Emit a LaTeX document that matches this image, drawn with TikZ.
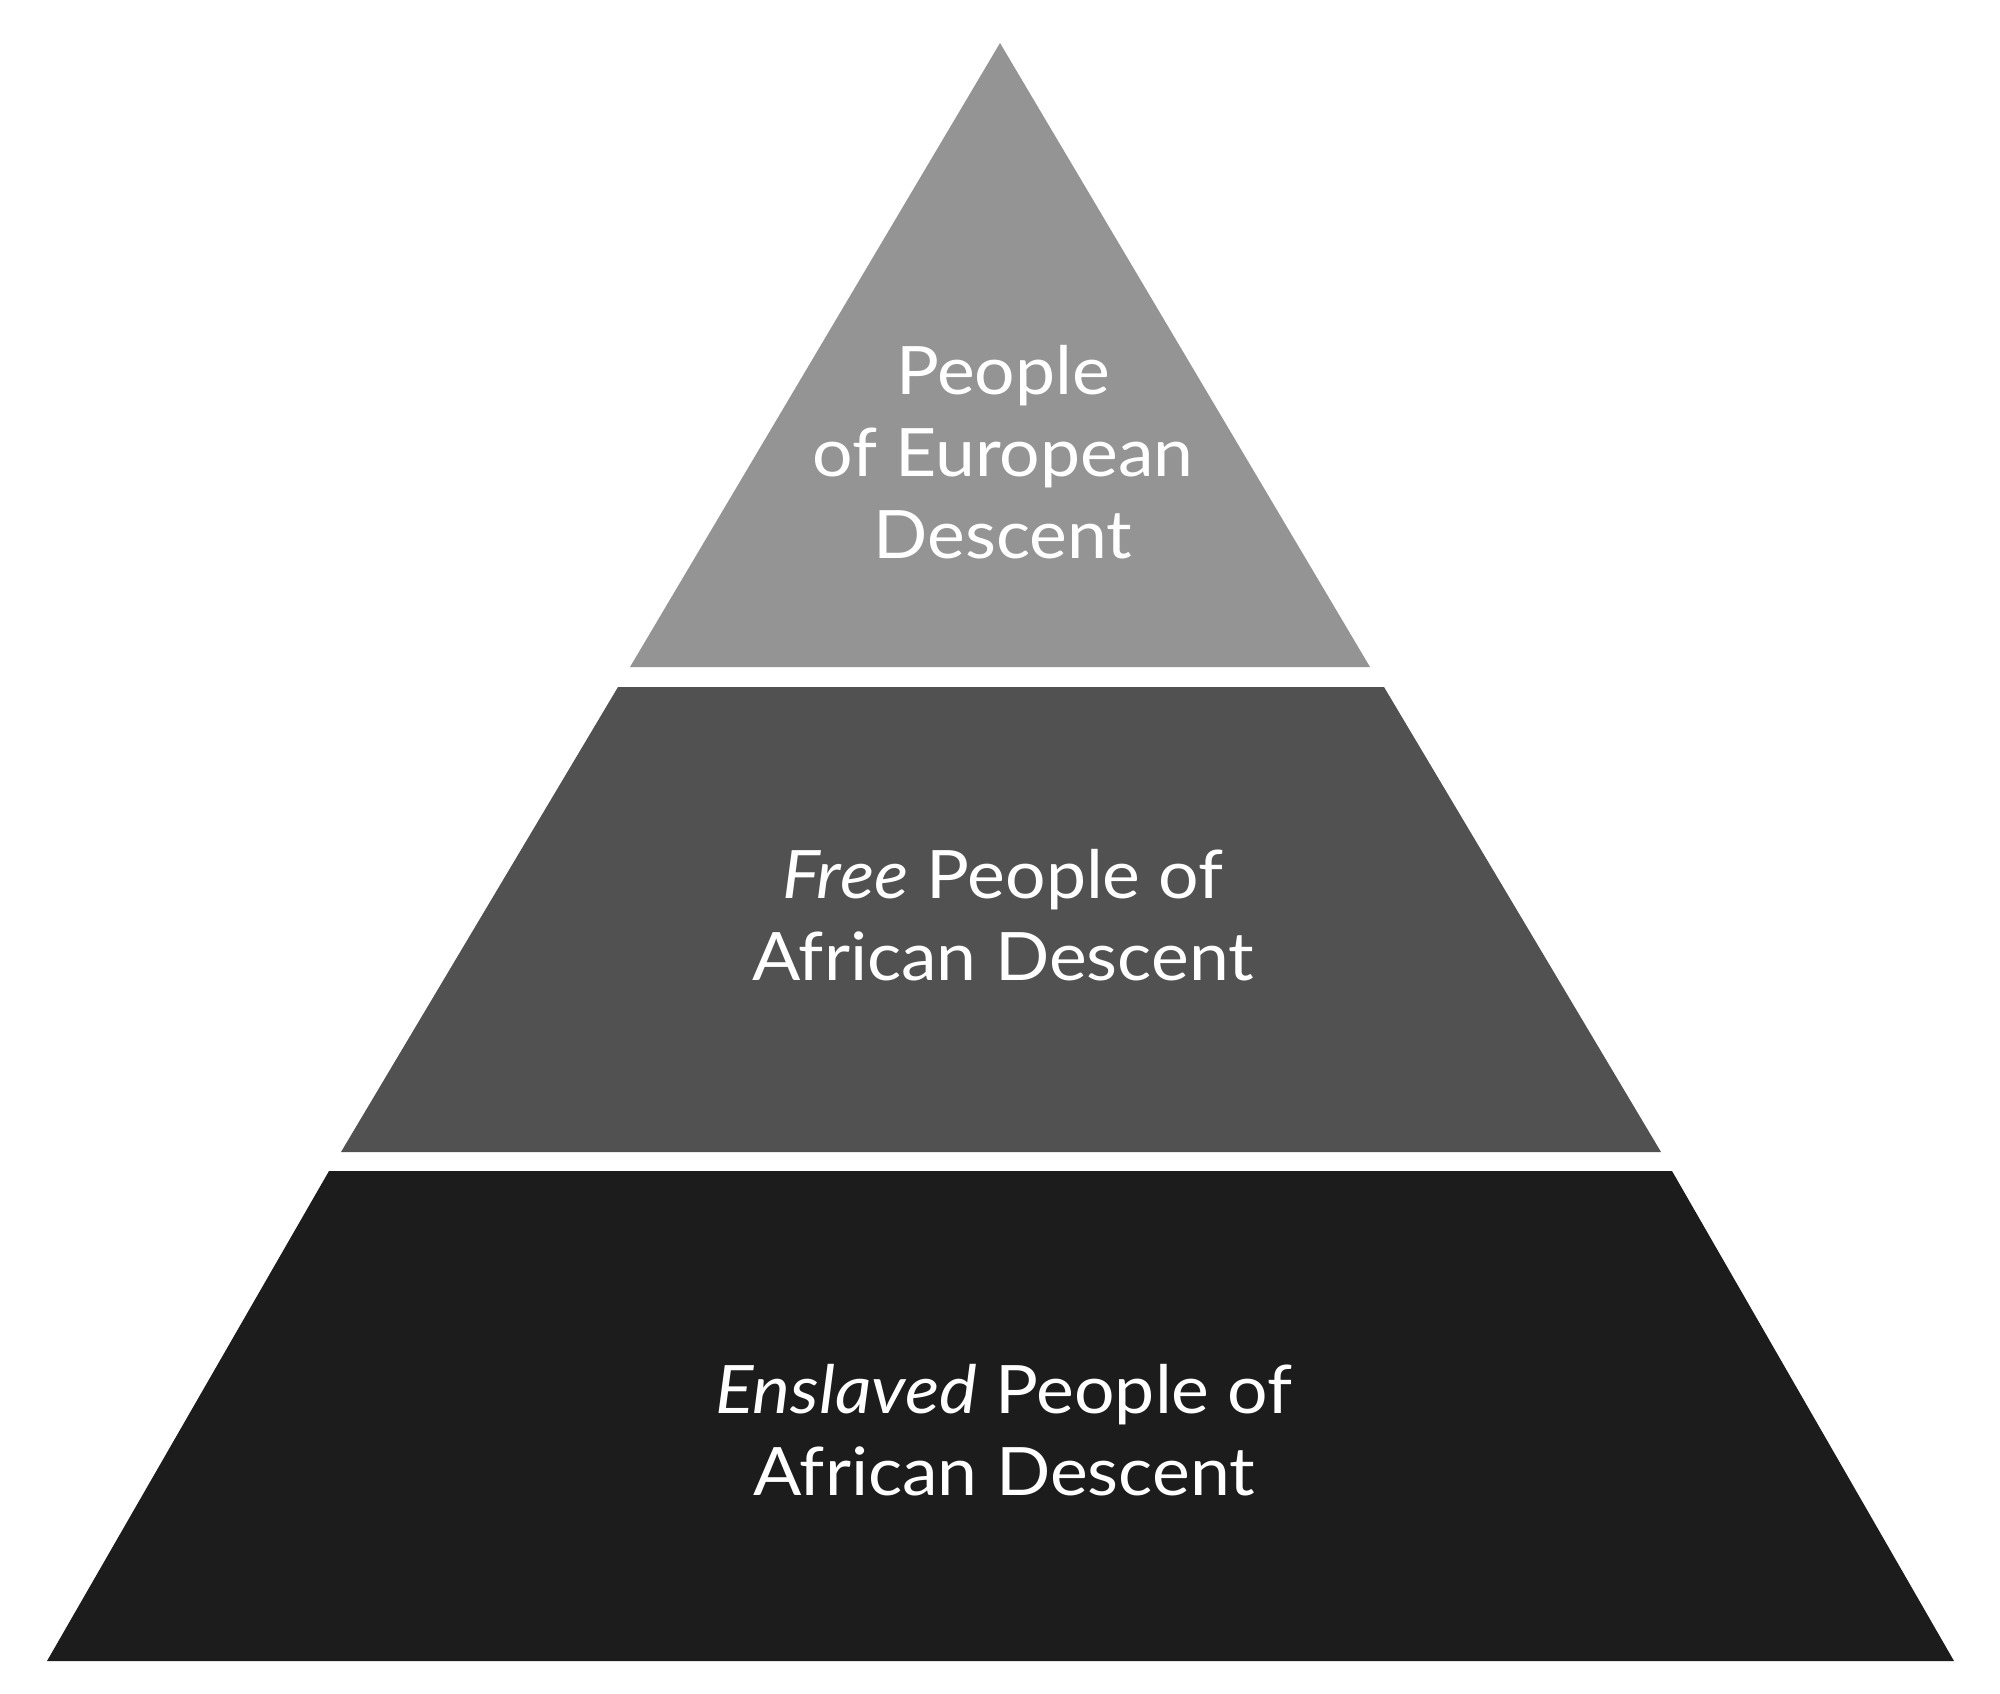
\documentclass[tikz,border=0pt]{standalone}
\usepackage{fontspec}
\setmainfont{Lato}[FakeStretch=1.07]
\usetikzlibrary{positioning}

\definecolor{topgray}{RGB}{147,148,147}
\definecolor{midgray}{RGB}{81,81,81}
\definecolor{lowgray}{RGB}{28,28,28}

\begin{document}
\begin{tikzpicture}[x=0.01cm,y=-0.01cm]
 \tikzstyle{band}=[draw=none]
 \tikzstyle{label}=[text=white,align=center,font=\fontsize{19}{23.3}\selectfont]
\useasboundingbox (0,0) rectangle (2000,1693);
\fill[white] (0,0) rectangle (2000,1693);
\fill[band,topgray] (1000,43) -- (1370,667) -- (630,667) -- cycle;
\fill[band,midgray] (618,687) -- (1384,687) -- (1661,1152) -- (341,1152) -- cycle;
\fill[band,lowgray] (329,1171) -- (1672,1171) -- (1954,1661) -- (47,1661) -- cycle;
\node[label] (european) at (1003,452) {People\\of European\\Descent};
\node[label] (free) at (1003,915) {\textit{Free} People of\\African Descent};
\node[label] (enslaved) at (1004,1430) {\textit{Enslaved} People of\\African Descent};
\end{tikzpicture}
\end{document}
